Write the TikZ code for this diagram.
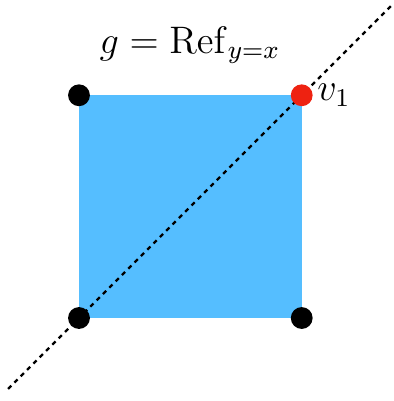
\documentclass[tikz,border=0pt]{standalone}
\usepackage{amsmath}
\usetikzlibrary{positioning}
\definecolor{sqblue}{HTML}{55BEFF}
\definecolor{vred}{HTML}{EE2211}

\begin{document}
\begin{tikzpicture}[
  dot/.style={circle, fill=black, inner sep=0pt, minimum size=0.24cm},
  mirror/.style={line width=0.7pt, dash pattern=on 1.4pt off 1.4pt}
]
  \useasboundingbox (-0.869,-0.913) rectangle (3.465,3.498);
  % square
  \fill[sqblue] (0,0) rectangle (2.45,2.45);
  % line of reflection
  \coordinate (lo) at (-0.78,-0.78);
  \coordinate (hi) at (3.45,3.45);
  \draw[mirror] (lo) -- (hi);
  % vertices
  \node[dot] (bl) at (0,0) {};
  \node[dot] (br) at (2.45,0) {};
  \node[dot] (tl) at (0,2.45) {};
  \node[dot, fill=vred] (tr) at (2.45,2.45) {};
  \node[right=-0.08cm of tr, font=\large] (v1) {$v_1$};
  % title
  \node[font=\large] (title) at (1.22,3.0) {$g = \mathrm{Ref}_{y=x}$};
\end{tikzpicture}
\end{document}
